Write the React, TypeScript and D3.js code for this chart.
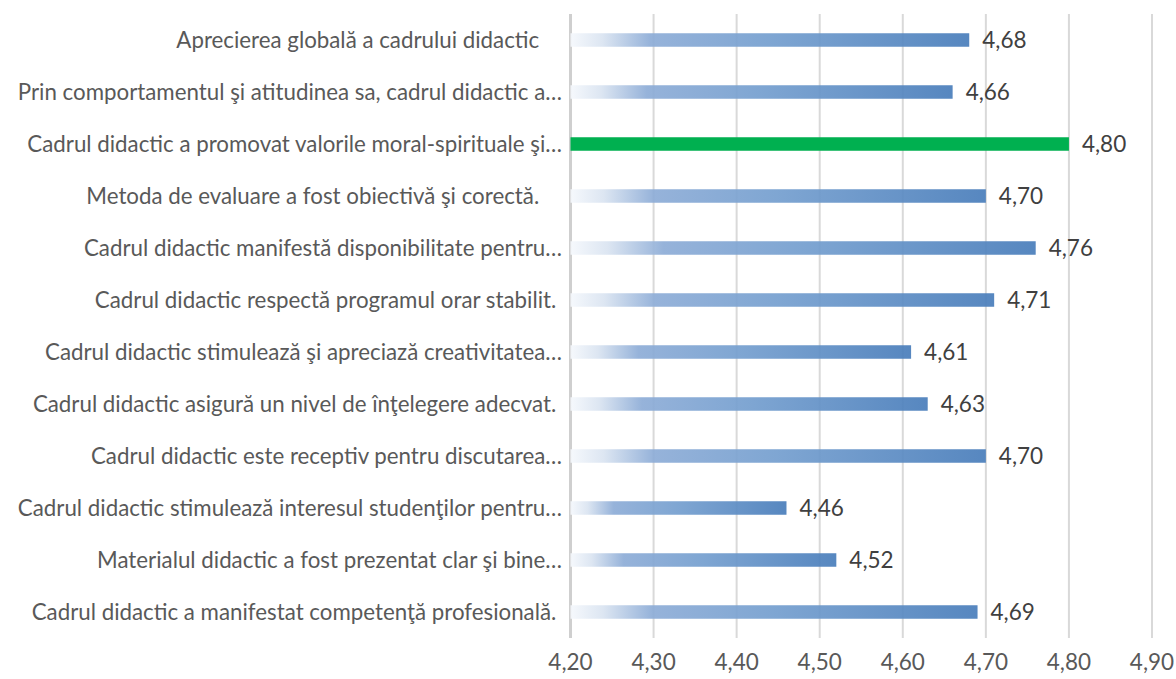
import React from "react";
import * as d3 from "d3";

const categories = [
  "Aprecierea globală a cadrului didactic    ",
  "Prin comportamentul şi atitudinea sa, cadrul didactic a…",
  "Cadrul didactic a promovat valorile moral-spirituale şi…",
  "Metoda de evaluare a fost obiectivă şi corectă.    ",
  "Cadrul didactic manifestă disponibilitate pentru…",
  "Cadrul didactic respectă programul orar stabilit. ",
  "Cadrul didactic stimulează şi apreciază creativitatea…",
  "Cadrul didactic asigură un nivel de înţelegere adecvat. ",
  "Cadrul didactic este receptiv pentru discutarea…",
  "Cadrul didactic stimulează interesul studenţilor pentru…",
  "Materialul didactic a fost prezentat clar şi bine…",
  "Cadrul didactic a manifestat competenţă profesională. ",
];
const values = [4.68, 4.66, 4.8, 4.7, 4.76, 4.71, 4.61, 4.63, 4.7, 4.46, 4.52, 4.69];
const highlighted = [false, false, true, false, false, false, false, false, false, false, false, false];
const ticks = [4.2, 4.3, 4.4, 4.5, 4.6, 4.7, 4.8, 4.9];

const W = 1176;
const H = 679;
const left = 570.5;
const right = 1152;
const top = 14;
const bottom = 638;
const font = "Lato, 'Open Sans', sans-serif";

export default function App() {
  const x = d3.scaleLinear().domain([4.2, 4.9]).range([left, right]);
  const y = d3.scaleBand<number>().domain(d3.range(categories.length)).range([top, bottom]);
  const fmt = (v: number) => v.toFixed(2).replace(".", ",");
  const barH = 13.5;
  return (
    <svg width={W} height={H} style={{ position: "absolute", left: 0, top: 0, background: "#fff" }}>
      <defs>
        <linearGradient id="barGrad" x1="0" y1="0" x2="1" y2="0">
          <stop offset="0" stopColor="#f5f8fc" />
          <stop offset="0.08" stopColor="#dae4f1" />
          <stop offset="0.2" stopColor="#8eadd7" />
          <stop offset="0.5" stopColor="#759fcf" />
          <stop offset="1" stopColor="#4a7ebb" />
        </linearGradient>
      </defs>
      {ticks.map((t, i) => (
        <line
          key={"g" + i}
          x1={x(t)}
          x2={x(t)}
          y1={top}
          y2={bottom}
          stroke={i === 0 ? "#cfcfcf" : "#d9d9d9"}
          strokeWidth={i === 0 ? 3 : 2}
        />
      ))}
      {categories.map((c, i) => {
        const cy = (y(i) as number) + y.bandwidth() / 2;
        return (
          <rect
            key={"b" + i}
            x={x(4.2)}
            y={cy - barH / 2}
            width={x(values[i]) - x(4.2)}
            height={barH}
            fill={highlighted[i] ? "#00b050" : "url(#barGrad)"}
            fillOpacity={highlighted[i] ? 1 : 0.93}
          />
        );
      })}
      {categories.map((c, i) => {
        const cy = (y(i) as number) + y.bandwidth() / 2;
        return (
          <g key={"t" + i} fontFamily={font}>
            <text
              x={562}
              y={cy}
              dy="0.35em"
              textAnchor="end"
              fill="#595959"
              fontSize={22.3}
              xmlSpace="preserve"
              style={{ whiteSpace: "pre" }}
            >
              {c}
            </text>
            <text x={x(values[i]) + 13} y={cy} dy="0.35em" fill="#404040" fontSize={22.5}>
              {fmt(values[i])}
            </text>
          </g>
        );
      })}
      {ticks.map((t, i) => (
        <text
          key={"l" + i}
          x={x(t)}
          y={662}
          dy="0.35em"
          textAnchor="middle"
          fontFamily={font}
          fontSize={22.5}
          fill="#595959"
        >
          {fmt(t)}
        </text>
      ))}
    </svg>
  );
}
